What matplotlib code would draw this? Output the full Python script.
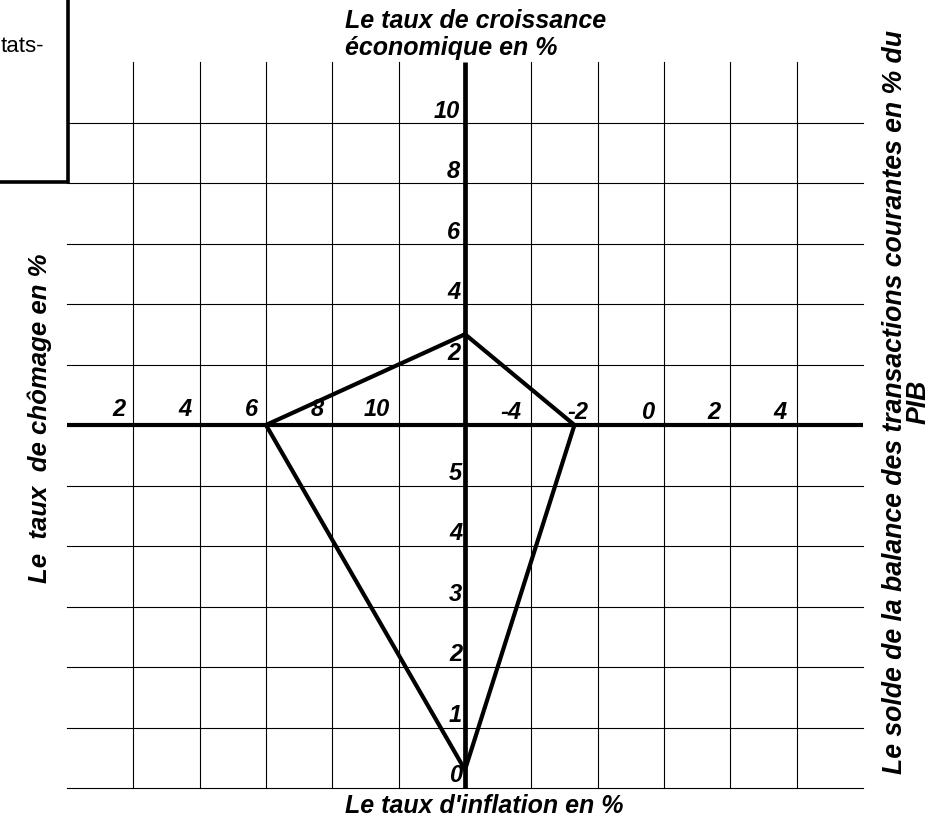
import matplotlib
matplotlib.use('Agg')
import matplotlib.pyplot as plt
from matplotlib.patches import Rectangle

# values of the "carre magique"
growth = 3.0          # taux de croissance economique en %
unemployment = 6.0    # taux de chomage en %
inflation = 0.3       # taux d'inflation en %
balance = -2.7        # solde des transactions courantes en % du PIB

growth_ticks = [2, 4, 6, 8, 10]
unemployment_ticks = [2, 4, 6, 8, 10]
inflation_ticks = [0, 1, 2, 3, 4, 5]
balance_ticks = [-4, -2, 0, 2, 4]

# each axis has its own scale on a 12x12 grid centred on (0, 0)
def growth_y(g):
    return g / 2.0

def unemp_x(u):
    return u / 2.0 - 6

def infl_y(i):
    return i - 6

def bal_x(b):
    return 3 + b / 2.0

W, H = 932, 826
fig = plt.figure(figsize=(W / 100, H / 100), dpi=100)
ax = fig.add_axes([67 / W, 1 - 788 / H, 796 / W, 726 / H])
ax.set_xlim(-6, 6)
ax.set_ylim(-6, 6)
ax.axis('off')

font = dict(family=['Liberation Sans', 'DejaVu Sans'], weight='bold', style='italic')

# grid
for xv in range(-5, 6):
    if xv != 0:
        ax.plot([xv, xv], [-6, 6], color='black', lw=0.8, clip_on=False)
for yv in range(-6, 6):
    if yv != 0:
        ax.plot([-6, 6], [yv, yv], color='black', lw=0.8, clip_on=False)

# main axes
ax.plot([0, 0], [-6, 6], color='black', lw=3.4, clip_on=False, solid_capstyle='butt')
ax.plot([-6, 6], [0, 0], color='black', lw=3.0, clip_on=False, solid_capstyle='butt')

# the square
px = [0, bal_x(balance), 0, unemp_x(unemployment), 0]
py = [growth_y(growth), 0, infl_y(inflation), 0, growth_y(growth)]
ax.plot(px, py, color='black', lw=3.0, solid_joinstyle='miter', clip_on=False)

# tick labels
tick_fs = 17
for g in growth_ticks:
    ax.annotate(str(g), xy=(0, growth_y(g)), xytext=(-3.5, 3.5), textcoords='offset points',
                ha='right', va='baseline', fontsize=tick_fs, **font)
for u in unemployment_ticks:
    ax.annotate(str(u), xy=(unemp_x(u), 0), xytext=(-6, 6.5), textcoords='offset points',
                ha='right', va='baseline', fontsize=tick_fs, **font)
for i in inflation_ticks:
    ax.annotate(str(i), xy=(0, infl_y(i)), xytext=(-2, 4), textcoords='offset points',
                ha='right', va='baseline', fontsize=tick_fs, **font)
for b in balance_ticks:
    ax.annotate(str(b), xy=(bal_x(b), 0), xytext=(-7, 4.5), textcoords='offset points',
                ha='right', va='baseline', fontsize=tick_fs, **font)

# axis titles
fig.text(345 / W, 1 - 28 / H, 'Le taux de croissance', ha='left', va='baseline', fontsize=18, **font)
fig.text(345 / W, 1 - 55 / H, 'économique en %', ha='left', va='baseline', fontsize=18, **font)
fig.text(345 / W, 1 - 813 / H, "Le taux d'inflation en %", ha='left', va='baseline', fontsize=18, **font)
fig.text(40 / W, 1 - 418 / H, 'Le  taux  de chômage en %', rotation=90, ha='center', va='center',
         fontsize=18.5, **font)
fig.text(907 / W, 1 - 402 / H, 'Le solde de la balance des transactions courantes en % du\nPIB',
         rotation=90, ha='center', va='center', multialignment='center', linespacing=0.9,
         fontsize=19.2, **font)

# cut-off legend box in the top left corner
fig.add_artist(Rectangle((-0.05, 1 - 182 / H), 68 / W + 0.05, 182 / H + 0.05,
                         transform=fig.transFigure, fill=False, lw=2.6, edgecolor='black'))
fig.text(44 / W, 1 - 47 / H, 'tats-', ha='right', va='center', fontsize=16,
         family=['Liberation Sans', 'DejaVu Sans'])

fig.savefig('out.png', dpi=100, facecolor='white')
